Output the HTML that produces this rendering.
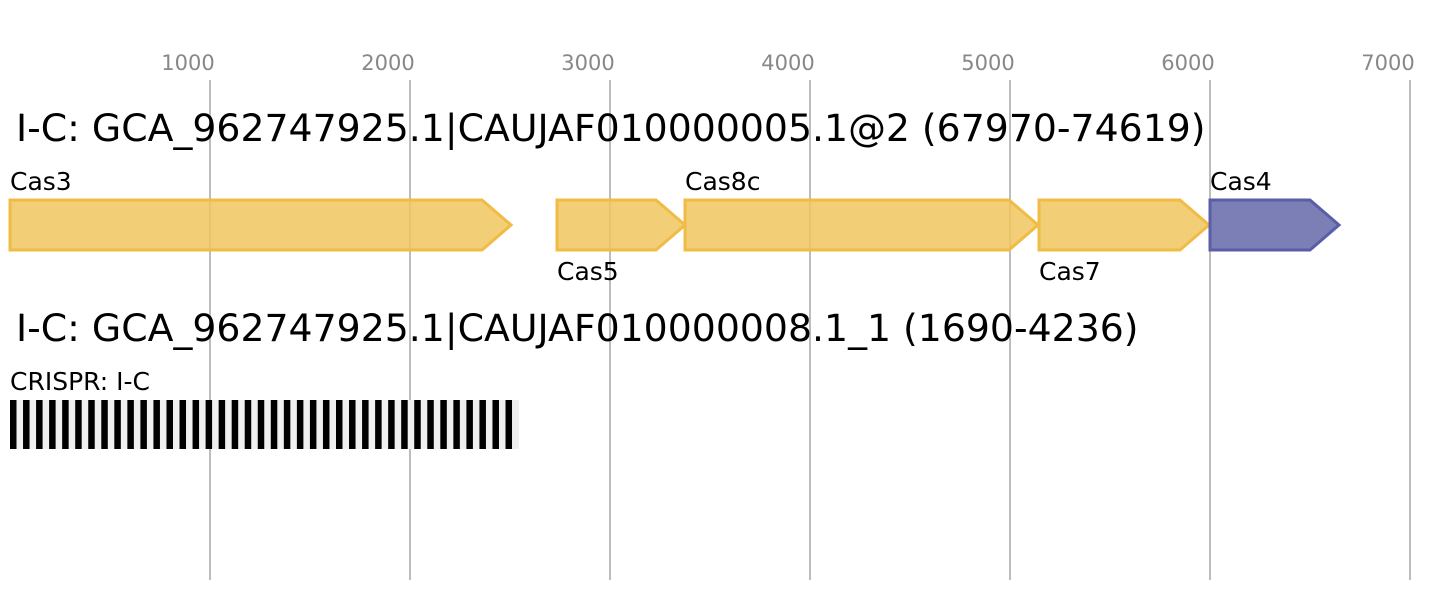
<!DOCTYPE html>
<html><head><meta charset="utf-8"><style>
body{margin:0;background:#fff;}
svg{display:block;font-family:"DejaVu Sans","Liberation Sans",sans-serif;}
</style></head><body>
<svg width="1430" height="600" viewBox="0 0 1430 600">
<g stroke="#bdbdbd" stroke-width="2">
<line x1="210" y1="80" x2="210" y2="580"/><line x1="410" y1="80" x2="410" y2="580"/>
<line x1="610" y1="80" x2="610" y2="580"/><line x1="810" y1="80" x2="810" y2="580"/>
<line x1="1010" y1="80" x2="1010" y2="580"/><line x1="1210" y1="80" x2="1210" y2="580"/>
<line x1="1410" y1="80" x2="1410" y2="580"/>
</g>
<g fill="#888" font-size="21" text-anchor="middle">
<text x="188" y="70">1000</text><text x="388" y="70">2000</text><text x="588" y="70">3000</text>
<text x="788" y="70">4000</text><text x="988" y="70">5000</text><text x="1188" y="70">6000</text>
<text x="1388" y="70">7000</text>
</g>
<text x="16" y="141" font-size="37.8" fill="#000">I-C: GCA_962747925.1|CAUJAF010000005.1@2 (67970-74619)</text>
<text x="16" y="341" font-size="37.8" fill="#000">I-C: GCA_962747925.1|CAUJAF010000008.1_1 (1690-4236)</text>
<g fill="#f0c55e" fill-opacity="0.85" stroke="#f0bc45" stroke-width="3">
<polygon points="10,200 482,200 511,225 482,250 10,250"/>
<polygon points="557,200 656,200 685,225 656,250 557,250"/>
<polygon points="685,200 1009,200 1038,225 1009,250 685,250"/>
<polygon points="1039,200 1180,200 1209,225 1180,250 1039,250"/>
</g>
<polygon points="1210,200 1310,200 1339,225 1310,250 1210,250" fill="#7b7fb6" stroke="#5a5ea8" stroke-width="3"/>
<g font-size="25" fill="#000">
<text x="10" y="190">Cas3</text><text x="685" y="190">Cas8c</text><text x="1210" y="190">Cas4</text>
<text x="557" y="280">Cas5</text><text x="1039" y="280">Cas7</text>
<text x="10" y="390">CRISPR: I-C</text>
</g>
<rect x="10" y="400" width="509" height="49" fill="#f0f0f0"/>
<g fill="#000">
<rect x="10" y="400" width="6.5" height="49"/><rect x="23.04" y="400" width="6.5" height="49"/><rect x="36.08" y="400" width="6.5" height="49"/><rect x="49.12" y="400" width="6.5" height="49"/><rect x="62.16" y="400" width="6.5" height="49"/><rect x="75.2" y="400" width="6.5" height="49"/><rect x="88.24" y="400" width="6.5" height="49"/><rect x="101.28" y="400" width="6.5" height="49"/><rect x="114.32" y="400" width="6.5" height="49"/><rect x="127.36" y="400" width="6.5" height="49"/>
<rect x="140.4" y="400" width="6.5" height="49"/><rect x="153.44" y="400" width="6.5" height="49"/><rect x="166.48" y="400" width="6.5" height="49"/><rect x="179.52" y="400" width="6.5" height="49"/><rect x="192.56" y="400" width="6.5" height="49"/><rect x="205.6" y="400" width="6.5" height="49"/><rect x="218.64" y="400" width="6.5" height="49"/><rect x="231.68" y="400" width="6.5" height="49"/><rect x="244.72" y="400" width="6.5" height="49"/><rect x="257.76" y="400" width="6.5" height="49"/>
<rect x="270.8" y="400" width="6.5" height="49"/><rect x="283.84" y="400" width="6.5" height="49"/><rect x="296.88" y="400" width="6.5" height="49"/><rect x="309.92" y="400" width="6.5" height="49"/><rect x="322.96" y="400" width="6.5" height="49"/><rect x="336" y="400" width="6.5" height="49"/><rect x="349.04" y="400" width="6.5" height="49"/><rect x="362.08" y="400" width="6.5" height="49"/><rect x="375.12" y="400" width="6.5" height="49"/><rect x="388.16" y="400" width="6.5" height="49"/>
<rect x="401.2" y="400" width="6.5" height="49"/><rect x="414.24" y="400" width="6.5" height="49"/><rect x="427.28" y="400" width="6.5" height="49"/><rect x="440.32" y="400" width="6.5" height="49"/><rect x="453.36" y="400" width="6.5" height="49"/><rect x="466.4" y="400" width="6.5" height="49"/><rect x="479.44" y="400" width="6.5" height="49"/><rect x="492.48" y="400" width="6.5" height="49"/><rect x="505.52" y="400" width="6.5" height="49"/>
</g>
</svg>
</body></html>
